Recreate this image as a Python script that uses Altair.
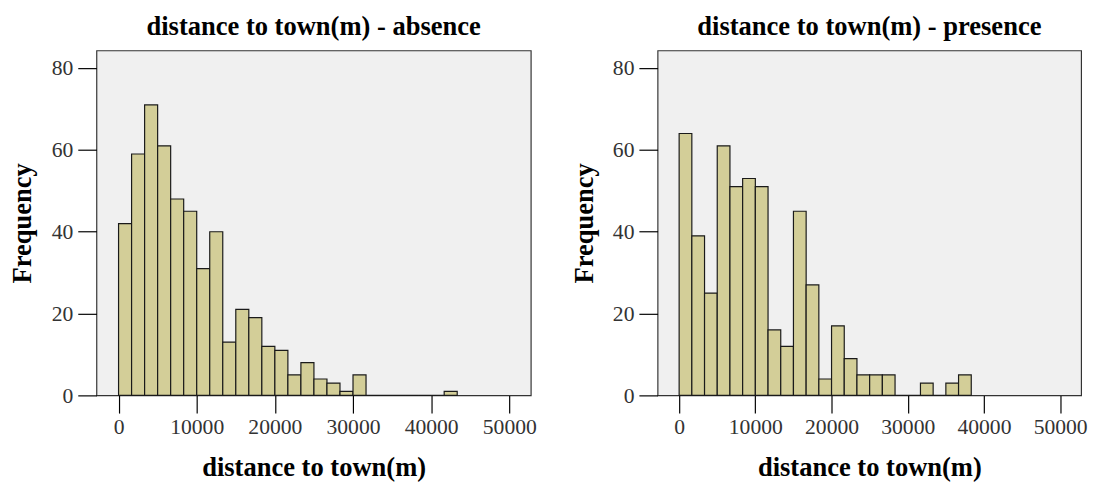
import altair as alt
import pandas as pd

BIN = 10000 / 6  # bin width of the histogram (m)

absence_counts = [42, 59, 71, 61, 48, 45, 31, 40, 13, 21, 19, 12, 11, 5, 8, 4, 3, 1, 5,
                  0, 0, 0, 0, 0, 0, 1]
presence_counts = [64, 39, 25, 61, 51, 53, 51, 16, 12, 45, 27, 4, 17, 9, 5, 5, 5, 0, 0,
                   3, 0, 3, 5]

x_ticks = [0, 10000, 20000, 30000, 40000, 50000]
y_ticks = [0, 20, 40, 60, 80]

titles = ["distance to town(m) - absence", "distance to town(m) - presence"]
x_title = "distance to town(m)"
y_title = "Frequency"

FILL = "#d3ce98"
SERIF = "Liberation Serif"


def frame(counts):
    return pd.DataFrame({
        "start": [i * BIN for i in range(len(counts))],
        "end": [(i + 1) * BIN for i in range(len(counts))],
        "count": counts,
        "base": [0] * len(counts),
    })


def panel(counts, title, width):
    return alt.Chart(frame(counts)).mark_bar(
        fill=FILL, stroke="#1a1a1a", strokeWidth=1.2
    ).encode(
        x=alt.X("start:Q",
                scale=alt.Scale(domain=[-2830, 52750], nice=False, zero=False, padding=0),
                axis=alt.Axis(values=x_ticks, format="d", title=x_title)),
        x2="end:Q",
        y=alt.Y("count:Q",
                scale=alt.Scale(domain=[0, 84.3], nice=False, padding=0),
                axis=alt.Axis(values=y_ticks, title=y_title)),
        y2="base:Q",
    ).properties(
        width=width, height=351,
        title=alt.TitleParams(title, font=SERIF, fontSize=27, fontWeight="bold",
                              color="#000", offset=10),
    )


chart = alt.hconcat(
    panel(absence_counts, titles[0], 442),
    panel(presence_counts, titles[1], 431),
    spacing=32,
).configure(
    background="white", padding=0
).configure_view(
    fill="#f0f0f0", stroke="#333333", strokeWidth=1.2
).configure_axis(
    grid=False, domain=False, tickColor="#000", tickWidth=1.2,
    labelFont=SERIF, labelFontSize=22, labelColor="#333",
    titleFont=SERIF, titleFontSize=27, titleFontWeight="bold", titleColor="#000",
).configure_axisX(
    tickSize=18, labelPadding=4, titlePadding=18
).configure_axisY(
    tickSize=19, labelPadding=5, titlePadding=14.7
)

chart.save("out.html", embed_options={"renderer": "svg", "actions": False})
